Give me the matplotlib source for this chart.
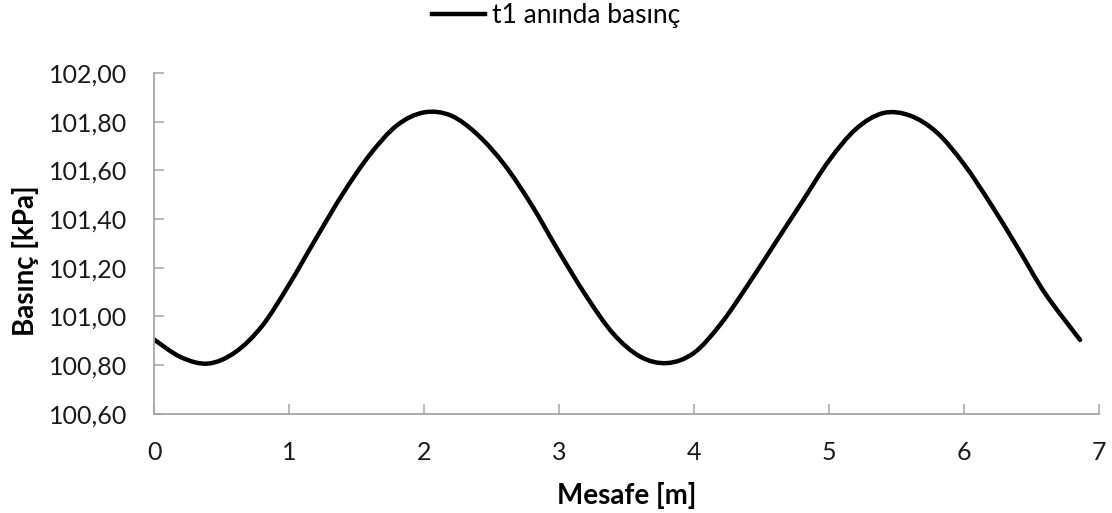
import numpy as np
import matplotlib
matplotlib.use('Agg')
from matplotlib import pyplot as plt
from matplotlib.path import Path
from matplotlib.patches import PathPatch
from matplotlib.lines import Line2D

plt.rcParams['font.family'] = ['Lato', 'DejaVu Sans']

# values
mesafe = [0.0, 0.2, 0.4, 0.6, 0.8, 1.0, 1.2, 1.4, 1.6, 1.8, 2.0, 2.2, 2.4,
          2.6, 2.8, 3.0, 3.2, 3.4, 3.6, 3.8, 4.0, 4.2, 4.4, 4.6, 4.8, 5.0,
          5.2, 5.4, 5.6, 5.8, 6.0, 6.2, 6.4, 6.6, 6.86]
basinc = [100.905, 100.832, 100.806, 100.852, 100.96, 101.13, 101.32,
          101.505, 101.665, 101.785, 101.838, 101.825, 101.745, 101.62,
          101.455, 101.265, 101.085, 100.93, 100.835, 100.808, 100.85,
          100.97, 101.13, 101.30, 101.47, 101.64, 101.77, 101.835,
          101.825, 101.755, 101.625, 101.46, 101.28, 101.095, 100.903]

yticks = [100.6, 100.8, 101.0, 101.2, 101.4, 101.6, 101.8, 102.0]
xticks = [0, 1, 2, 3, 4, 5, 6, 7]

fig = plt.figure(figsize=(11.12, 5.13), dpi=100)
ax = fig.add_axes([154/1112, 1-413.7/513, 945/1112, 340.7/513])

# smoothed line like excel (bezier through the points)
P = np.column_stack([mesafe, basinc])
verts = [P[0]]
codes = [Path.MOVETO]
n = len(P)
for i in range(n - 1):
    p0 = P[max(i - 1, 0)]
    p1 = P[i]
    p2 = P[i + 1]
    p3 = P[min(i + 2, n - 1)]
    verts += [p1 + (p2 - p0) / 6, p2 - (p3 - p1) / 6, p2]
    codes += [Path.CURVE4] * 3
ax.add_patch(PathPatch(Path(verts, codes), facecolor='none', edgecolor='black',
                       lw=3.2, capstyle='round', joinstyle='round'))

ax.set_xlim(0, 7)
ax.set_ylim(100.6, 102.0)
ax.set_xticks(xticks)
ax.set_yticks(yticks)
ax.set_yticklabels([f'{v:.2f}'.replace('.', ',') for v in yticks])

for s in ['top', 'right']:
    ax.spines[s].set_visible(False)
for s in ['left', 'bottom']:
    ax.spines[s].set_color('#a6a6a6')
    ax.spines[s].set_linewidth(1.3)
ax.tick_params(direction='in', length=7, width=1.1, color='#a6a6a6',
               labelsize=18, labelcolor='#1a1a1a')
ax.tick_params(axis='x', pad=20)
ax.tick_params(axis='y', pad=19)

ax.set_xlabel('Mesafe [m]', fontsize=20, fontweight='bold')
ax.set_ylabel('Basınç [kPa]', fontsize=20, fontweight='bold')
ax.xaxis.set_label_coords(0.5, -0.2)
ax.yaxis.set_label_coords(-0.122, 0.45)

handle = Line2D([], [], color='black', lw=3.2)
fig.legend([handle], ['t1 anında basınç'], loc='upper center',
           bbox_to_anchor=(0.5, 1.04), frameon=False,
           fontsize=19, handlelength=2.0, handletextpad=0.25)

fig.savefig('out.png', dpi=100)
